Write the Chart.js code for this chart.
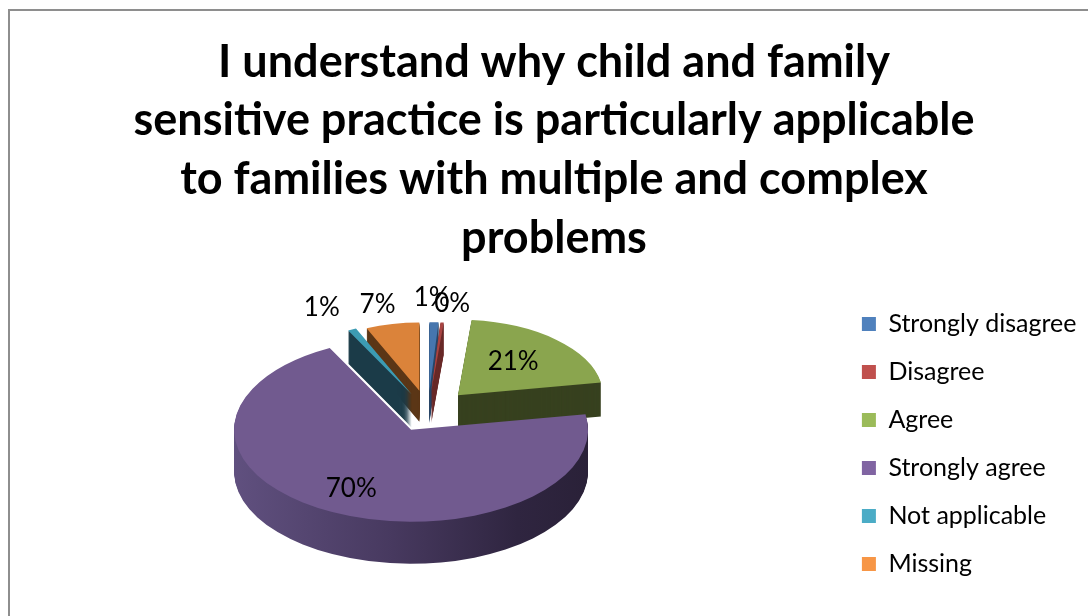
<!DOCTYPE html>
<html>
<head>
<meta charset="utf-8">
<script src="https://cdn.jsdelivr.net/npm/chart.js@4.4.1/dist/chart.umd.min.js"></script>
<style>
  html, body { margin: 0; padding: 0; background: #fff; overflow: hidden; }
  #wrap { position: relative; width: 1088px; height: 616px; overflow: hidden; }
  #frame { position: absolute; left: 8px; top: 9px; width: 1200px; height: 700px;
           border-top: 2px solid #8e8e8e; border-left: 2px solid #8e8e8e; }
  canvas { position: absolute; left: 0; top: 0; }
</style>
</head>
<body>
<div id="wrap">
  <div id="frame"></div>
  <canvas id="chart" width="1088" height="616"></canvas>
</div>
<script>
// ---- data ----
const categories = ['Strongly disagree', 'Disagree', 'Agree', 'Strongly agree', 'Not applicable', 'Missing'];
const shares = [1.1, 0.4, 20.8, 70.1, 1.0, 6.6];   // percent of respondents
const titleLines = [
  'I understand why child and family',
  'sensitive practice is particularly applicable',
  'to families with multiple and complex',
  'problems'
];

// ---- styling ----
const legendColors = ['#4F81BD', '#C0504D', '#9BBB59', '#8064A2', '#4BACC6', '#F79646'];
const faceColors   = ['#4676AE', '#A94442', '#8AA54E', '#715A8F', '#3C9BB3', '#DB833A'];
const sideColors   = ['#2A4768', '#6A2A29', '#37411F', null, '#1B3B48', '#5B3616'];
const explode      = [40, 40, 44, 38, 38, 42];          // slice pull-out, px in the pie plane
const farScale     = [0.75, 0.75, 0.82, 1, 0.78, 0.74]; // shrink of the far slices (perspective)
const tilt = 0.52;          // vertical squash of the pie plane
const depth = 42;           // thickness of the pie, px
const viewCenter = { x: 428, y: 412 };
const labelRadius = [1.36, 1.28, 0.6, 0.72, 1.34, 1.29];
const labelShiftX = [-4, 7, -4, -3, -10, -7];
const FONT = 'Lato, Carlito, "Open Sans", sans-serif';

function sideFill(ctx, i, cx, r) {
  if (sideColors[i]) return sideColors[i];
  const g = ctx.createLinearGradient(cx - r, 0, cx + r, 0);
  g.addColorStop(0, '#60507F');
  g.addColorStop(0.45, '#47395F');
  g.addColorStop(0.8, '#2F2540');
  g.addColorStop(1, '#2A2138');
  return g;
}

const pie3d = {
  id: 'pie3d',
  beforeDatasetsDraw(chart) {
    const ctx = chart.ctx;
    const arcs = chart.getDatasetMeta(0).data;
    const cx = arcs[0].x, cy = arcs[0].y;
    const mid = a => (a.startAngle + a.endAngle) / 2;
    // paint from the back of the pie to the front
    const order = arcs.map((a, i) => i).sort((i, j) => Math.sin(mid(arcs[i])) - Math.sin(mid(arcs[j])));
    for (const i of order) {
      const arc = arcs[i];
      const m = mid(arc);
      const s = farScale[i];
      ctx.save();
      ctx.translate(viewCenter.x, viewCenter.y);
      ctx.scale(1, tilt);
      ctx.translate(Math.cos(m) * explode[i], Math.sin(m) * explode[i]);
      ctx.scale(s, s);
      ctx.translate(-cx, -cy);
      const wall = Object.create(arc);
      wall.options = Object.assign({}, arc.options, {
        backgroundColor: sideFill(ctx, i, cx, arc.outerRadius),
        borderWidth: 0
      });
      const d = Math.round(depth * s);
      for (let k = d; k >= 1; k--) {
        ctx.save();
        ctx.translate(0, k / (tilt * s));
        wall.draw(ctx);
        ctx.restore();
      }
      arc.draw(ctx);
      ctx.restore();
    }
    return false;
  },
  afterDraw(chart) {
    const ctx = chart.ctx;
    const arcs = chart.getDatasetMeta(0).data;
    const total = shares.reduce((a, b) => a + b, 0);
    ctx.save();
    ctx.font = '26px ' + FONT;
    ctx.fillStyle = '#000';
    ctx.textAlign = 'center';
    ctx.textBaseline = 'middle';
    arcs.forEach((arc, i) => {
      const m = (arc.startAngle + arc.endAngle) / 2;
      const rr = labelRadius[i] * arc.outerRadius * farScale[i] + explode[i];
      const x = viewCenter.x + Math.cos(m) * rr + labelShiftX[i];
      const y = viewCenter.y + Math.sin(m) * rr * tilt;
      ctx.fillText(Math.round(shares[i] / total * 100) + '%', x, y);
    });
    ctx.restore();
  }
};

Chart.defaults.font.family = FONT;
Chart.defaults.color = '#000';

new Chart(document.getElementById('chart'), {
  type: 'pie',
  data: {
    labels: categories,
    datasets: [{
      data: shares,
      backgroundColor: faceColors,
      borderWidth: 0,
      radius: 177
    }]
  },
  options: {
    responsive: false,
    animation: false,
    devicePixelRatio: 1,
    events: [],
    layout: { padding: { left: 21.5, right: 1.5, top: 0, bottom: 0 } },
    plugins: {
      title: {
        display: true,
        text: titleLines,
        color: '#000',
        font: { family: FONT, size: 45, weight: 'bold', lineHeight: 1.304 },
        padding: { top: 32.7, bottom: 4.6 }
      },
      legend: {
        position: 'right',
        fullSize: false,
        labels: {
          boxWidth: 14,
          boxHeight: 14,
          padding: 23,
          color: '#000',
          font: { family: FONT, size: 25 },
          generateLabels: () => categories.map((c, i) => ({
            text: c, fillStyle: legendColors[i], strokeStyle: legendColors[i],
            lineWidth: 0, hidden: false, index: i
          }))
        }
      },
      tooltip: { enabled: false }
    }
  },
  plugins: [pie3d]
});
</script>
</body>
</html>
